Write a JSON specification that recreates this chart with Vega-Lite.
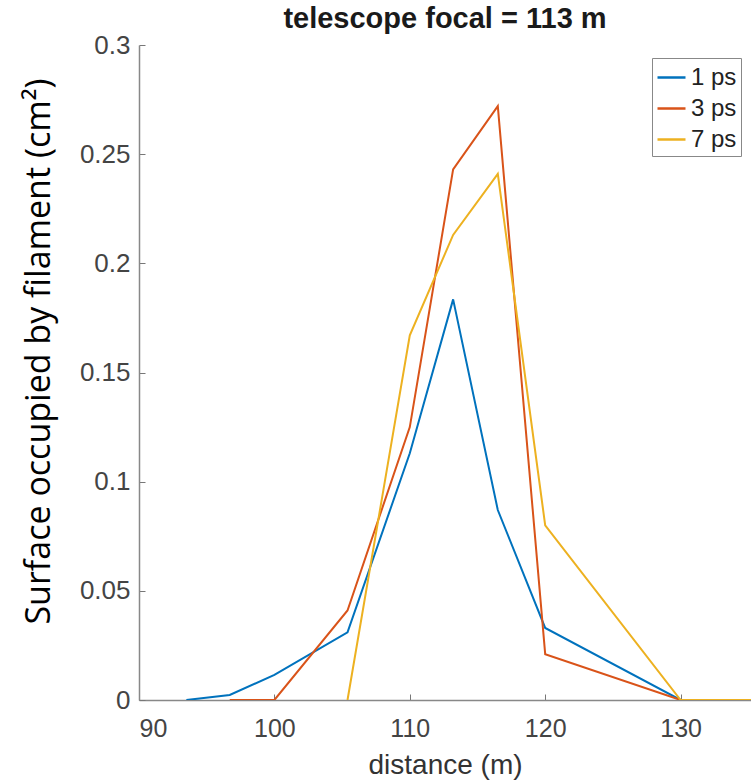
{
  "$schema": "https://vega.github.io/schema/vega-lite/v6.json",
  "width": 612,
  "height": 655,
  "autosize": "none",
  "padding": {"left": 139, "top": 45, "right": 0, "bottom": 82},
  "background": "white",
  "view": {"stroke": null},
  "title": {"text": "telescope focal = 113 m", "font": "Liberation Sans", "fontSize": 29, "fontWeight": "bold", "color": "#1a1a1a", "anchor": "middle", "offset": -2},
  "data": {"values": [
    {"series": "1 ps", "distance": 93.5, "surface": 0},
    {"series": "1 ps", "distance": 96.7, "surface": 0.0023},
    {"series": "1 ps", "distance": 100.0, "surface": 0.0115},
    {"series": "1 ps", "distance": 105.4, "surface": 0.031},
    {"series": "1 ps", "distance": 110.0, "surface": 0.113},
    {"series": "1 ps", "distance": 113.2, "surface": 0.1835},
    {"series": "1 ps", "distance": 116.5, "surface": 0.087},
    {"series": "1 ps", "distance": 120.0, "surface": 0.033},
    {"series": "1 ps", "distance": 130.0, "surface": 0},
    {"series": "3 ps", "distance": 96.7, "surface": 0},
    {"series": "3 ps", "distance": 100.0, "surface": 0},
    {"series": "3 ps", "distance": 105.4, "surface": 0.041},
    {"series": "3 ps", "distance": 110.0, "surface": 0.125},
    {"series": "3 ps", "distance": 113.2, "surface": 0.243},
    {"series": "3 ps", "distance": 116.5, "surface": 0.272},
    {"series": "3 ps", "distance": 120.0, "surface": 0.021},
    {"series": "3 ps", "distance": 130.0, "surface": 0},
    {"series": "7 ps", "distance": 105.4, "surface": 0},
    {"series": "7 ps", "distance": 110.0, "surface": 0.167},
    {"series": "7 ps", "distance": 113.2, "surface": 0.213},
    {"series": "7 ps", "distance": 116.5, "surface": 0.241},
    {"series": "7 ps", "distance": 120.0, "surface": 0.080},
    {"series": "7 ps", "distance": 130.0, "surface": 0},
    {"series": "7 ps", "distance": 136.0, "surface": 0}
  ]},
  "mark": {"type": "line", "strokeWidth": 2, "clip": true},
  "encoding": {
    "x": {
      "field": "distance", "type": "quantitative",
      "scale": {"domain": [90, 135.2], "nice": false, "zero": false},
      "axis": {
        "values": [90, 100, 110, 120, 130],
        "title": "distance (m)",
        "grid": false,
        "labelFont": "Liberation Sans", "labelFontSize": 25, "labelColor": "#444444",
        "labelPadding": 22,
        "tickSize": -6, "tickColor": "#777777",
        "domainColor": "#888888", "domainWidth": 1.5,
        "titleFont": "Liberation Sans", "titleFontSize": 28, "titleFontWeight": "normal", "titleColor": "#333333",
        "titleY": 65, "titleBaseline": "middle"
      }
    },
    "y": {
      "field": "surface", "type": "quantitative",
      "scale": {"domain": [0, 0.3], "nice": false},
      "axis": {
        "values": [0, 0.05, 0.1, 0.15, 0.2, 0.25, 0.3],
        "format": "~g",
        "title": "Surface occupied by filament (cm²)",
        "grid": false,
        "labelFont": "Liberation Sans", "labelFontSize": 26, "labelColor": "#444444",
        "labelPadding": 15,
        "tickSize": -6, "tickColor": "#777777",
        "domainColor": "#888888", "domainWidth": 1.5,
        "titleFont": "Open Sans", "titleFontSize": 34, "titleFontWeight": "normal", "titleColor": "#000000",
        "titleX": -100, "titleY": 306, "titleAngle": -90, "titleAlign": "center", "titleBaseline": "middle"
      }
    },
    "color": {
      "field": "series", "type": "nominal",
      "scale": {"domain": ["1 ps", "3 ps", "7 ps"], "range": ["#0072BD", "#D95319", "#EDB120"]},
      "legend": {
        "title": null,
        "orient": "none", "legendX": 513, "legendY": 13,
        "symbolType": "stroke", "symbolSize": 784, "symbolStrokeWidth": 2.5,
        "labelFont": "Liberation Sans", "labelFontSize": 24, "labelColor": "#222222",
        "labelOffset": 4,
        "rowPadding": 3, "padding": 4,
        "strokeColor": "#888888", "fillColor": "white"
      }
    }
  }
}
